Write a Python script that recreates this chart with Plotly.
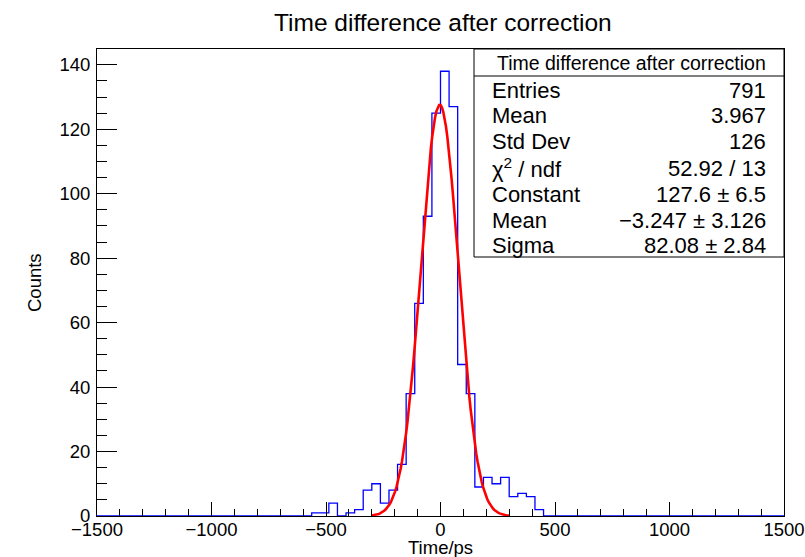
import numpy as np
import plotly.graph_objects as go

# ---------------- data ----------------
title_text = "Time difference after correction"
x_min, x_max, n_bins = -1500.0, 1500.0, 80
counts = [0] * 25 + [1, 1, 4, 0, 1, 2, 8, 10, 4, 8, 16, 38, 66, 93, 125,
                     138, 127, 47, 38, 9, 12, 10, 12, 6, 7, 6, 2] + [0] * 28
fit_constant = 127.6
fit_mean = -3.247
fit_sigma = 82.08
fit_range = [-300.0, 300.0]
stat_labels = ["Entries", "Mean", "Std Dev", "χ<sup>2</sup> / ndf", "Constant", "Mean", "Sigma"]
stat_values = ["791", "3.967", "126", "52.92 / 13", "127.6 ± 6.5", "−3.247 ± 3.126", "82.08 ± 2.84"]
x_ticks = [-1500, -1000, -500, 0, 500, 1000, 1500]
y_ticks = [0, 20, 40, 60, 80, 100, 120, 140]

# ---------------- geometry ----------------
W, H = 805, 557
L, R, T, B = 97, 21, 49, 41
PW, PH = W - L - R, H - T - B
FONT = "Liberation Sans, Arial, Helvetica, sans-serif"


def pxx(px):
    return (px - L) / PW


def pxy(py):
    return (H - B - py) / PH


edges = np.linspace(x_min, x_max, n_bins + 1)
step_y = list(counts) + [counts[-1]]

xf = np.linspace(fit_range[0], fit_range[1], 101)
yf = fit_constant * np.exp(-0.5 * ((xf - fit_mean) / fit_sigma) ** 2)

fig = go.Figure()
fig.add_trace(go.Scatter(x=edges, y=step_y, mode="lines", line_shape="hv",
                         line=dict(color="#0000ff", width=1.3), hoverinfo="skip"))
fig.add_trace(go.Scatter(x=xf, y=yf, mode="lines",
                         line=dict(color="#ff0000", width=2.6), hoverinfo="skip"))

ymax = 1.05 * max(counts)

fig.update_layout(
    width=W, height=H, margin=dict(l=L, r=R, t=T, b=B, pad=0, autoexpand=False),
    paper_bgcolor="white", plot_bgcolor="white", showlegend=False,
    font=dict(family=FONT, color="black"),
)
fig.update_xaxes(range=[x_min, x_max], showgrid=False, zeroline=False, automargin=False,
                 showline=True, linecolor="black", linewidth=1, mirror=True,
                 ticks="inside", ticklen=14, tickwidth=1, tickcolor="black",
                 tickvals=x_ticks, tickfont=dict(size=18.5, family=FONT),
                 ticklabelstandoff=-3,
                 minor=dict(ticks="inside", ticklen=7, dtick=100, tick0=0,
                            tickcolor="black", tickwidth=1, showgrid=False),
                 layer="above traces")
fig.update_yaxes(range=[0, ymax], showgrid=False, zeroline=False, automargin=False,
                 showline=True, linecolor="black", linewidth=1, mirror=True,
                 ticks="inside", ticklen=20, tickwidth=1, tickcolor="black",
                 tickvals=y_ticks, tickfont=dict(size=18.5, family=FONT),
                 ticklabelstandoff=2,
                 minor=dict(ticks="inside", ticklen=10, dtick=5, tick0=0,
                            tickcolor="black", tickwidth=1, showgrid=False),
                 layer="above traces")

# stats box
bx0, bx1, by0, by1 = 474, 784, 49, 257
fig.add_shape(type="rect", xref="paper", yref="paper",
              x0=pxx(bx0), x1=pxx(bx1), y0=pxy(by1), y1=pxy(by0),
              fillcolor="white", line=dict(color="black", width=1), layer="above")
fig.add_shape(type="line", xref="paper", yref="paper",
              x0=pxx(bx0), x1=pxx(bx1), y0=pxy(76), y1=pxy(76),
              line=dict(color="black", width=1), layer="above")

annotations = [
    dict(text=title_text, x=pxx(443), y=pxy(22), xref="paper", yref="paper",
         xanchor="center", yanchor="middle", showarrow=False,
         font=dict(size=24.5, family=FONT, color="black")),
    dict(text=title_text, x=pxx(631), y=pxy(63), xref="paper", yref="paper",
         xanchor="center", yanchor="middle", showarrow=False,
         font=dict(size=19.5, family=FONT, color="black")),
    dict(text="Counts", x=pxx(34), y=pxy(282), xref="paper", yref="paper",
         xanchor="center", yanchor="middle", showarrow=False, textangle=-90,
         font=dict(size=18.5, family=FONT, color="black")),
    dict(text="Time/ps", x=pxx(440.5), y=pxy(547), xref="paper", yref="paper",
         xanchor="center", yanchor="middle", showarrow=False,
         font=dict(size=18.5, family=FONT, color="black")),
]
row_y = [90, 116, 142, 168, 194, 220, 246]
for lab, val, ry in zip(stat_labels, stat_values, row_y):
    annotations.append(dict(text=lab, x=pxx(490), y=pxy(ry), xref="paper", yref="paper",
                            xanchor="left", yanchor="middle", showarrow=False,
                            font=dict(size=22, family=FONT, color="black")))
    annotations.append(dict(text=val, x=pxx(768), y=pxy(ry), xref="paper", yref="paper",
                            xanchor="right", yanchor="middle", showarrow=False,
                            font=dict(size=22, family=FONT, color="black")))
fig.update_layout(annotations=annotations)

fig.write_html("out.html")
